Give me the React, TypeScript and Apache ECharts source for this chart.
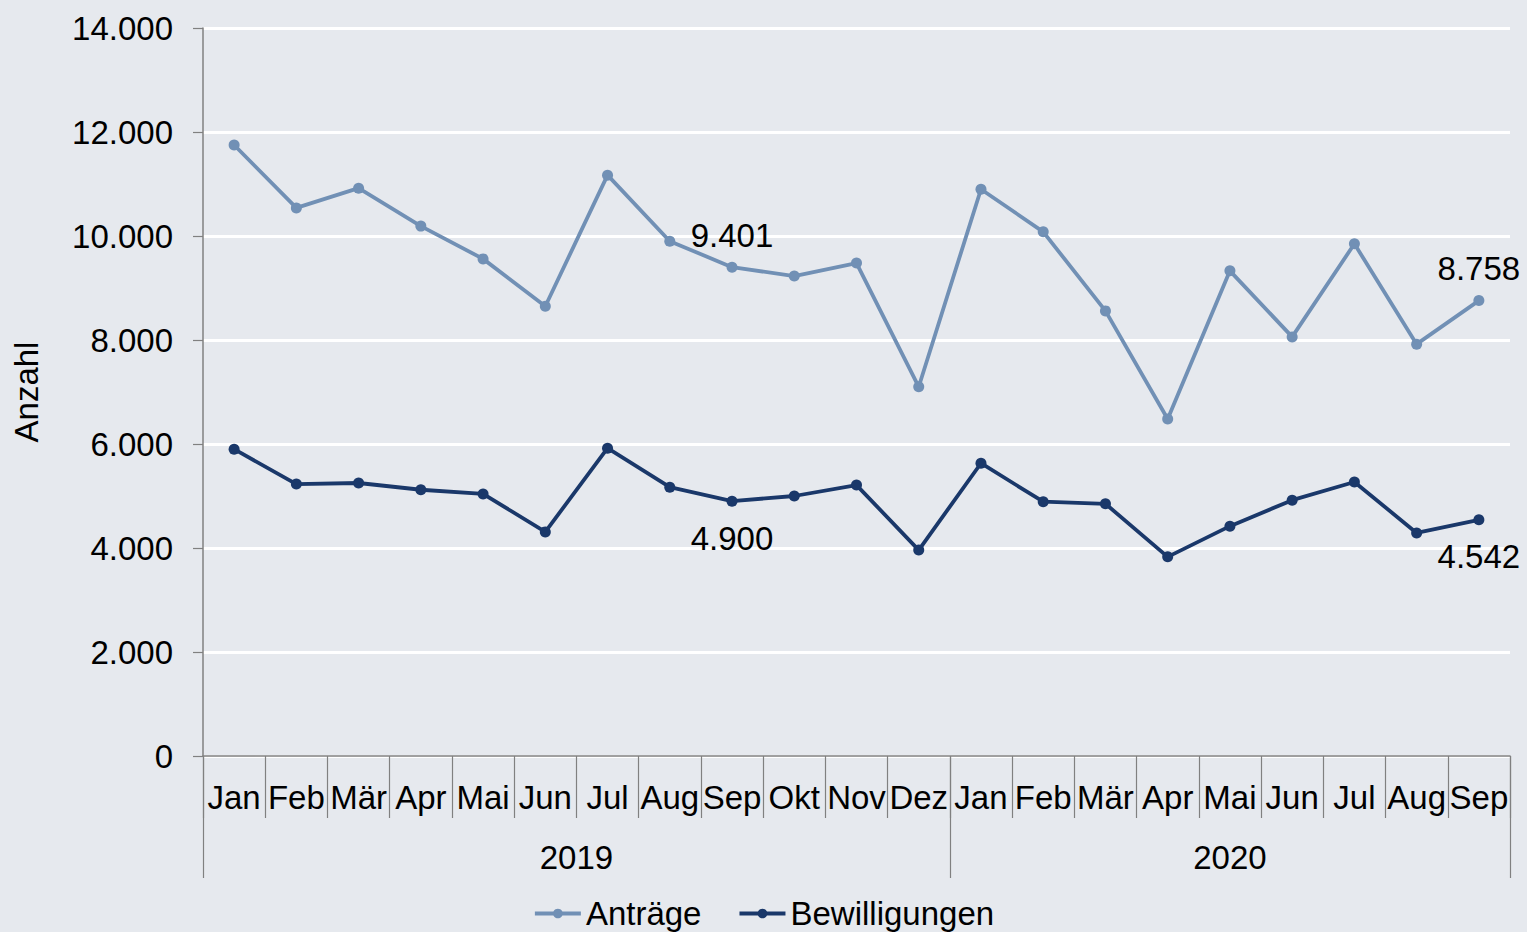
import React, { useEffect, useRef } from "react";
import * as echarts from "echarts";

const months = ["Jan", "Feb", "Mär", "Apr", "Mai", "Jun", "Jul", "Aug", "Sep", "Okt", "Nov", "Dez",
  "Jan", "Feb", "Mär", "Apr", "Mai", "Jun", "Jul", "Aug", "Sep"];
const years = ["2019", "2020"];
const monthsPerYear = [12, 9];

const antraege = [11750, 10540, 10920, 10190, 9560, 8650, 11170, 9900, 9401, 9230, 9480, 7100,
  10900, 10080, 8560, 6480, 9330, 8060, 9850, 7920, 8758];
const bewilligungen = [5900, 5230, 5250, 5120, 5040, 4310, 5920, 5170, 4900, 5000, 5210, 3960,
  5630, 4890, 4850, 3830, 4420, 4920, 5270, 4290, 4542];
const labelIndices = [8, 20];

const yTicks = [0, 2000, 4000, 6000, 8000, 10000, 12000, 14000];

const fmt = (v: number) => String(Math.round(v)).replace(/\B(?=(\d{3})+(?!\d))/g, ".");

const FONT = "Liberation Sans, Arial, sans-serif";
const FS = 33;
const C_ANTR = "#7190b5";
const C_BEW = "#1a386a";
const GRAY = "#808080";

export default function App() {
  const ref = useRef<HTMLDivElement>(null);
  useEffect(() => {
    if (!ref.current) return;
    const chart = echarts.init(ref.current, null, { renderer: "svg" });

    const bounds: number[] = [0];
    const centers: number[] = [];
    let acc = 0;
    monthsPerYear.forEach((n) => {
      centers.push(acc + n / 2);
      acc += n;
      bounds.push(acc);
    });

    const mkData = (arr: number[], pos: string, dist: number) =>
      arr.map((v, i) =>
        labelIndices.includes(i)
          ? { value: v, label: { show: true, position: pos, distance: dist, formatter: (p: any) => fmt(p.value) } }
          : v
      );

    chart.setOption({
      animation: false,
      backgroundColor: "#e6e9ee",
      textStyle: { fontFamily: FONT },
      grid: { left: 203, right: 17, top: 28, bottom: 176, containLabel: false },
      legend: {
        bottom: -3,
        left: "center",
        itemWidth: 46,
        itemHeight: 12,
        itemGap: 36,
        itemStyle: { borderWidth: 0 },
        textStyle: { fontSize: FS, color: "#000", fontFamily: FONT },
        data: [
          { name: "Anträge", itemStyle: { color: C_ANTR }, lineStyle: { color: C_ANTR, width: 4 } },
          { name: "Bewilligungen", itemStyle: { color: C_BEW }, lineStyle: { color: C_BEW, width: 4 } },
        ],
      },
      xAxis: [
        {
          type: "category",
          data: months,
          boundaryGap: true,
          axisLine: { show: true, lineStyle: { color: GRAY, width: 1.5 } },
          axisTick: { show: true, interval: 0, length: 62, lineStyle: { color: GRAY, width: 1.2 } },
          axisLabel: { interval: 0, margin: 25, fontSize: FS, color: "#000", fontFamily: FONT },
          splitLine: { show: false },
        },
        {
          type: "value",
          min: 0,
          max: months.length,
          position: "bottom",
          axisLine: { show: false },
          axisTick: { show: true, customValues: bounds, length: 122, lineStyle: { color: GRAY, width: 1.2 } },
          axisLabel: {
            show: true,
            customValues: centers,
            margin: 85,
            fontSize: FS,
            color: "#000",
            fontFamily: FONT,
            formatter: (v: number) => {
              const i = centers.findIndex((c) => Math.abs(c - v) < 1e-6);
              return i >= 0 ? years[i] : "";
            },
          },
          splitLine: { show: false },
        },
      ],
      yAxis: {
        type: "value",
        min: 0,
        max: 14000,
        interval: 2000,
        name: "Anzahl",
        nameLocation: "middle",
        nameGap: 160,
        nameRotate: 90,
        nameTextStyle: { fontSize: FS, color: "#000", fontFamily: FONT },
        axisLine: { show: true, lineStyle: { color: GRAY, width: 1.5 } },
        axisTick: { show: true, length: 10, lineStyle: { color: GRAY, width: 1.2 } },
        axisLabel: {
          margin: 30,
          fontSize: FS,
          color: "#000",
          fontFamily: FONT,
          customValues: yTicks,
          formatter: (v: number) => fmt(v),
        },
        splitLine: { show: true, lineStyle: { color: "#ffffff", width: 3 } },
      },
      series: [
        {
          name: "Anträge",
          type: "line",
          data: mkData(antraege, "top", 10),
          symbol: "circle",
          symbolSize: 11,
          lineStyle: { color: C_ANTR, width: 3.8 },
          itemStyle: { color: C_ANTR },
          label: { fontSize: FS, color: "#000", fontFamily: FONT },
          z: 3,
        },
        {
          name: "Bewilligungen",
          type: "line",
          data: mkData(bewilligungen, "bottom", 15),
          symbol: "circle",
          symbolSize: 11,
          lineStyle: { color: C_BEW, width: 3.8 },
          itemStyle: { color: C_BEW },
          label: { fontSize: FS, color: "#000", fontFamily: FONT },
          z: 3,
        },
      ],
    });
    return () => chart.dispose();
  }, []);

  return (
    <div
      ref={ref}
      style={{ position: "fixed", left: 0, top: 0, width: 1527, height: 932, background: "#e6e9ee" }}
    />
  );
}
